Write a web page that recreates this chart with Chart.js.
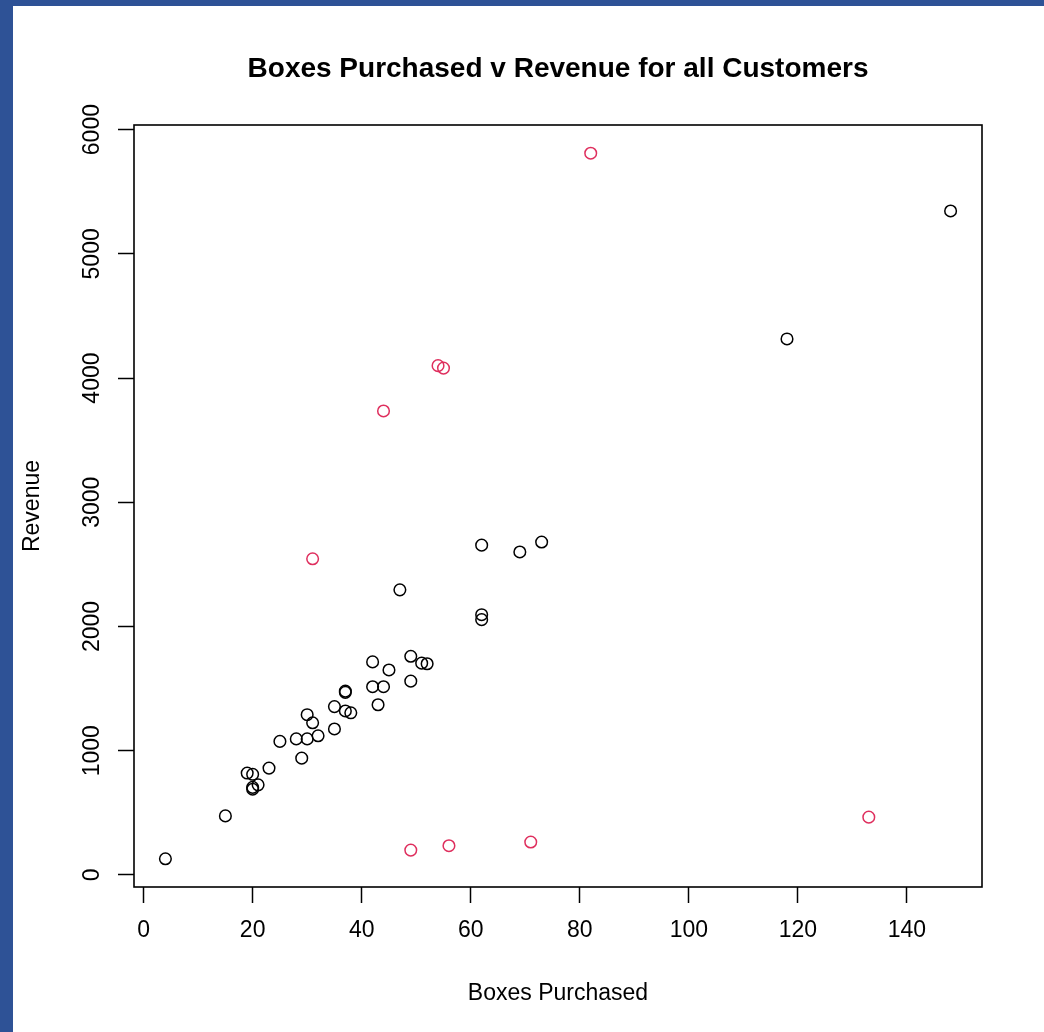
<!DOCTYPE html>
<html>
<head>
<meta charset="utf-8">
<script src="https://cdn.jsdelivr.net/npm/chart.js@4/dist/chart.umd.min.js"></script>
<style>
  html, body { margin: 0; padding: 0; }
  body { width: 1044px; height: 1032px; background: #2E5296; position: relative; overflow: hidden; }
  #wrap { position: absolute; left: 13px; top: 6px; width: 1031px; height: 1026px; background: #ffffff; }
  canvas { display: block; }
</style>
</head>
<body>
<div id="wrap"><canvas id="chart" width="1031" height="1026"></canvas></div>
<script>
// Customers flagged as unusual (drawn in red)
const flaggedBoxes   = [82, 54, 55, 44, 31, 49, 56, 71, 133];
const flaggedRevenue = [5810, 4100, 4080, 3735, 2545, 200, 235, 265, 465];

// All other customers (drawn in black)
const regularBoxes = [148, 118, 73, 69, 62, 62, 62, 47, 49, 42, 51, 52, 45, 37, 37, 42, 44, 49, 43,
                      35, 37, 38, 30, 31, 32, 35, 25, 28, 30, 29, 23, 19, 20, 21, 20, 20, 15, 4];
const regularRevenue = [5345, 4315, 2680, 2600, 2655, 2095, 2055, 2295, 1760, 1715, 1705, 1700, 1650, 1480, 1470, 1515, 1515, 1560, 1370,
                        1355, 1320, 1305, 1290, 1225, 1120, 1175, 1075, 1095, 1095, 940, 860, 820, 810, 725, 705, 690, 475, 130];

// Axis ticks
const xTicks = [0, 20, 40, 60, 80, 100, 120, 140];
const yTicks = [0, 1000, 2000, 3000, 4000, 5000, 6000];

const chartTitle = 'Boxes Purchased v Revenue for all Customers';

const toPoints = (xs, ys) => xs.map((x, i) => ({ x: x, y: ys[i] }));

// Axis limits padded by 4% of the data range on each side
const allX = flaggedBoxes.concat(regularBoxes);
const allY = flaggedRevenue.concat(regularRevenue);
const padRange = (vals) => {
  const lo = Math.min(...vals), hi = Math.max(...vals);
  const p = (hi - lo) * 0.04;
  return [lo - p, hi + p];
};
const [xMin, xMax] = padRange(allX);
const [yMin, yMax] = padRange(allY);

const FONT = "'Liberation Sans', Arial, Helvetica, sans-serif";

// Frame around the plotting region plus the main title centred over it
const framePlugin = {
  id: 'frame',
  afterDatasetsDraw(chart) {
    const { ctx, chartArea: a } = chart;
    ctx.save();
    ctx.strokeStyle = '#000';
    ctx.lineWidth = 1.6;
    ctx.strokeRect(a.left, a.top, a.right - a.left, a.bottom - a.top);
    ctx.fillStyle = '#000';
    ctx.font = 'bold 28px ' + FONT;
    ctx.textAlign = 'center';
    ctx.textBaseline = 'alphabetic';
    ctx.fillText(chartTitle, (a.left + a.right) / 2, 71);
    ctx.restore();
  }
};

new Chart(document.getElementById('chart'), {
  type: 'scatter',
  data: {
    datasets: [
      {
        label: 'Regular',
        data: toPoints(regularBoxes, regularRevenue),
        pointStyle: 'circle',
        pointRadius: 5.8,
        pointBorderWidth: 1.5,
        borderColor: '#000000',
        backgroundColor: 'rgba(0,0,0,0)'
      },
      {
        label: 'Flagged',
        data: toPoints(flaggedBoxes, flaggedRevenue),
        pointStyle: 'circle',
        pointRadius: 5.8,
        pointBorderWidth: 1.5,
        borderColor: '#DF2F5E',
        backgroundColor: 'rgba(0,0,0,0)'
      }
    ]
  },
  options: {
    responsive: false,
    animation: false,
    events: [],
    layout: { padding: { left: 0, right: 62, top: 119, bottom: 0 } },
    plugins: {
      legend: { display: false },
      tooltip: { enabled: false },
      title: { display: false }
    },
    scales: {
      x: {
        type: 'linear',
        position: 'bottom',
        min: xMin,
        max: xMax,
        afterBuildTicks: (s) => { s.ticks = xTicks.map(v => ({ value: v })); },
        afterFit: (s) => { s.height = 145; },
        grid: { display: true, drawOnChartArea: false, drawTicks: true, tickLength: 16, tickWidth: 1.5, tickColor: '#000' },
        border: { display: false },
        ticks: {
          autoSkip: false, maxRotation: 0, minRotation: 0,
          padding: 14, color: '#000',
          font: { family: FONT, size: 23, lineHeight: 1.2 },
          callback: (v) => String(v)
        },
        title: {
          display: true,
          text: 'Boxes Purchased',
          color: '#000',
          font: { family: FONT, size: 23, lineHeight: 1.2 },
          padding: { top: 0, bottom: 25 }
        }
      },
      y: {
        type: 'linear',
        position: 'left',
        min: yMin,
        max: yMax,
        afterBuildTicks: (s) => { s.ticks = yTicks.map(v => ({ value: v })); },
        afterFit: (s) => { s.width = 121; },
        grid: { display: true, drawOnChartArea: false, drawTicks: true, tickLength: 16, tickWidth: 1.5, tickColor: '#000' },
        border: { display: false },
        ticks: {
          autoSkip: false, minRotation: 90, maxRotation: 90,
          crossAlign: 'center',
          padding: 0, color: '#000',
          font: { family: FONT, size: 23, lineHeight: 1.2 },
          callback: (v) => String(v)
        },
        title: {
          display: true,
          text: 'Revenue',
          color: '#000',
          font: { family: FONT, size: 23, lineHeight: 1.2 },
          padding: { top: 5.6, bottom: 0 }
        }
      }
    }
  },
  plugins: [framePlugin]
});
</script>
</body>
</html>
